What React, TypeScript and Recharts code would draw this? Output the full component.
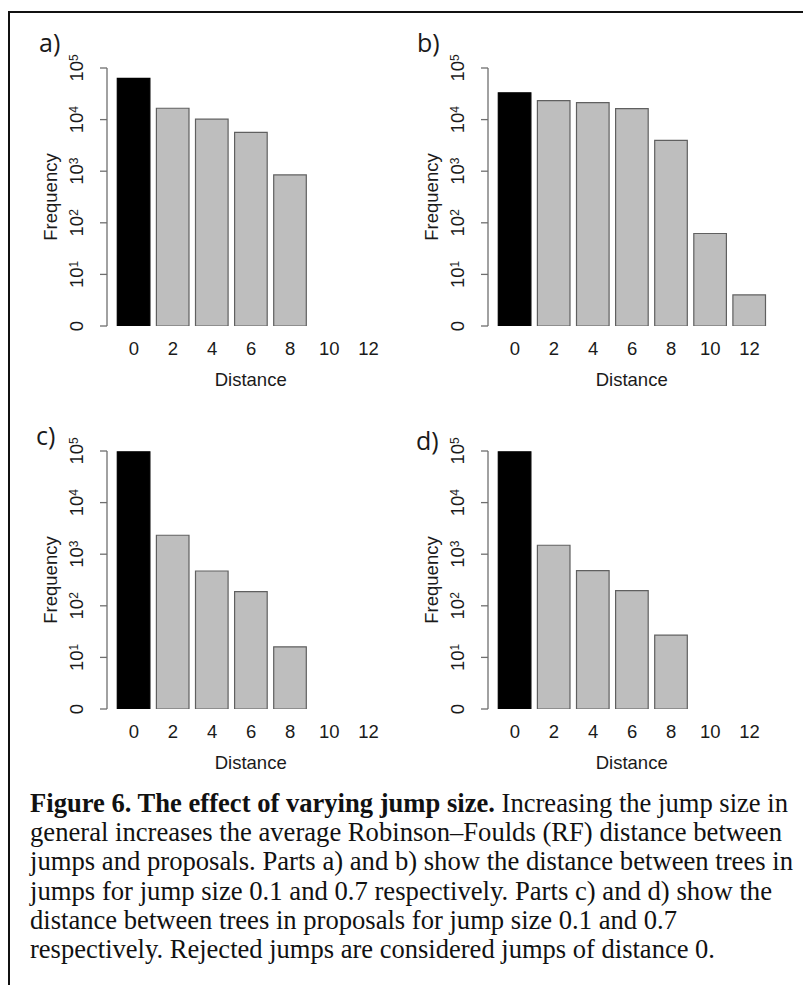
import React from 'react';
import { BarChart, Bar, XAxis, YAxis, Cell } from 'recharts';

// distance between trees (x categories)
const distances = ['0', '2', '4', '6', '8', '10', '12'];
const logTicks = [1, 10, 100, 1000, 10000, 100000];

// a) jumps, jump size 0.1
const jumpsSmall = [63000, 16600, 10200, 5650, 845, null, null];
// b) jumps, jump size 0.7
const jumpsLarge = [33100, 23300, 21300, 16300, 3960, 62, 4];
// c) proposals, jump size 0.1
const proposalsSmall = [96600, 2330, 472, 188, 16, null, null];
// d) proposals, jump size 0.7
const proposalsLarge = [96600, 1490, 480, 196, 27, null, null];

const captionLines = [
  { bold: 'Figure 6. The effect of varying jump size.', rest: ' Increasing the jump size in', w: 758 },
  { bold: '', rest: 'general increases the average Robinson\u2013Foulds (RF) distance between', w: 752 },
  { bold: '', rest: 'jumps and proposals. Parts a) and b) show the distance between trees in', w: 763 },
  { bold: '', rest: 'jumps for jump size 0.1 and 0.7 respectively. Parts c) and d) show the', w: 742 },
  { bold: '', rest: 'distance between trees in proposals for jump size 0.1 and 0.7', w: 647 },
  { bold: '', rest: 'respectively. Rejected jumps are considered jumps of distance 0.', w: 685 },
];

const sans = { fontFamily: 'Liberation Sans, Arimo, Arial, sans-serif' };
const serif = { fontFamily: 'Liberation Serif, Tinos, Times New Roman, serif' };
const INK = '#1a1a1a';

const PLOT_H = 258;
const PLOT_W = 288.3;
const PAD = 7.3;

const YTick = (props: any) => {
  const { x, y, payload } = props;
  const exp = Math.round(Math.log10(payload.value));
  return (
    <g transform={`translate(${x - 16.5},${y}) rotate(-90)`}>
      <text x={0} y={0} textAnchor="middle" style={sans} fontSize={18.5} fill={INK}>
        {exp === 0 ? '0' : (
          <>
            10<tspan dy={-6} fontSize={12}>{exp}</tspan>
          </>
        )}
      </text>
    </g>
  );
};

const XTick = (props: any) => {
  const { x, y, payload } = props;
  return (
    <text x={x} y={y + 29} textAnchor="middle" style={sans} fontSize={18.5} fill={INK}>
      {payload.value}
    </text>
  );
};

interface PanelProps {
  values: (number | null)[];
  axisX: number;
  plotTop: number;
  letter: string;
  letterX: number;
  letterY: number;
}

const Panel = ({ values, axisX, plotTop, letter, letterX, letterY }: PanelProps) => {
  const data = distances.map((d, i) => ({ distance: d, freq: values[i] }));
  const left = axisX - 100;
  const top = plotTop - 68;
  return (
    <>
      <div style={{ position: 'absolute', left, top }}>
        <BarChart width={100 + PLOT_W} height={68 + PLOT_H + 70} data={data}
          margin={{ top: 68, right: 0, bottom: 0, left: 0 }}>
          <XAxis dataKey="distance" type="category" axisLine={false} tickLine={false}
            tickSize={0} tickMargin={0} height={70} interval={0}
            padding={{ left: PAD, right: PAD }} tick={<XTick />} />
          <YAxis type="number" scale="log" domain={[1, 100000]} ticks={logTicks}
            allowDataOverflow width={100} tickSize={7} tickMargin={0}
            axisLine={{ stroke: '#6f6f6f', strokeWidth: 1.3 }}
            tickLine={{ stroke: '#6f6f6f', strokeWidth: 1.3 }} tick={<YTick />} />
          <Bar dataKey="freq" barSize={32.6} isAnimationActive={false}>
            {data.map((d, i) => (
              <Cell key={d.distance} fill={i === 0 ? '#000000' : '#bebebe'}
                stroke={i === 0 ? '#000000' : '#606060'} strokeWidth={1.2} />
            ))}
          </Bar>
        </BarChart>
      </div>
      <svg style={{ position: 'absolute', left: 0, top: 0, pointerEvents: 'none' }} width={803} height={985}>
        <text x={letterX} y={letterY} style={{ fontFamily: 'Open Sans, sans-serif' }} fontSize={25} fill={INK}>{letter}</text>
        <text transform={`translate(${axisX - 50},${plotTop + PLOT_H / 2}) rotate(-90)`} textAnchor="middle"
          style={sans} fontSize={18.5} fill={INK}>Frequency</text>
        <text x={axisX + 143.7} y={plotTop + PLOT_H + 60} textAnchor="middle"
          style={sans} fontSize={18.5} fill={INK}>Distance</text>
      </svg>
    </>
  );
};

export default function App() {
  return (
    <div style={{ position: 'absolute', left: 0, top: 0, width: 803, height: 985, background: '#fff' }}>
      <Panel values={jumpsSmall} axisX={107} plotTop={68} letter="a)" letterX={39} letterY={52} />
      <Panel values={jumpsLarge} axisX={488} plotTop={68} letter="b)" letterX={417} letterY={52} />
      <Panel values={proposalsSmall} axisX={107} plotTop={451} letter="c)" letterX={36} letterY={445} />
      <Panel values={proposalsLarge} axisX={488} plotTop={451} letter="d)" letterX={416} letterY={450} />
      <svg style={{ position: 'absolute', left: 0, top: 0 }} width={803} height={985}>
        <line x1={9} y1={12} x2={803} y2={12} stroke="#111" strokeWidth={2} />
        <line x1={9} y1={11} x2={9} y2={985} stroke="#111" strokeWidth={2} />
        {captionLines.map((l, i) => (
          <text key={i} x={30} y={812 + i * 29.2} style={serif} fontSize={27} fill="#111"
            textLength={l.w} lengthAdjust="spacingAndGlyphs">
            {l.bold && <tspan fontWeight="bold">{l.bold}</tspan>}
            {l.rest}
          </text>
        ))}
      </svg>
    </div>
  );
}
